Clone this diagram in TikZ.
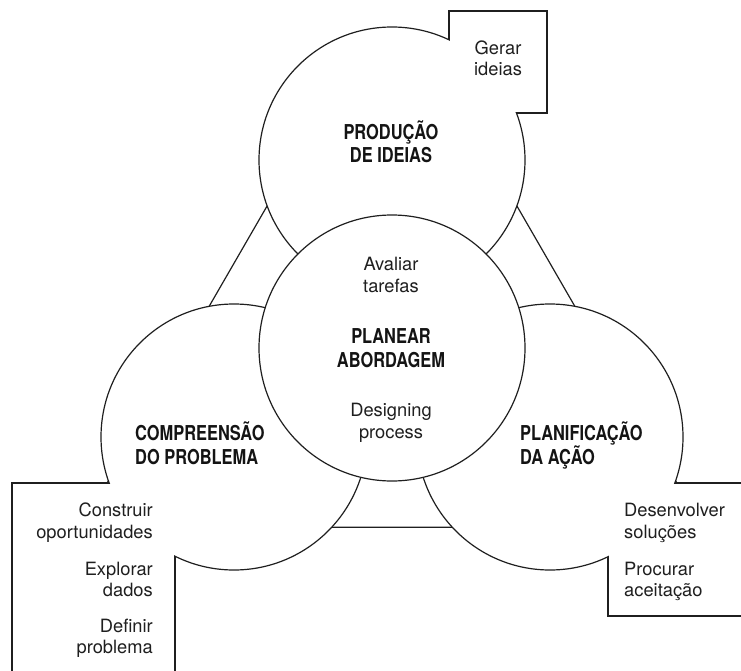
\documentclass[tikz,border=0pt]{standalone}
\usepackage{fontspec}
\setmainfont{TeX Gyre Heros}
% narrow bold face for the phase titles
\newfontfamily\headfont{TeX Gyre Heros}[FakeStretch=0.80]

\begin{document}
\begin{tikzpicture}[x=1pt, y=-1pt,
  outline/.style={draw=black!88, line width=1.2pt},
  disc/.style={outline, fill=white, circle, inner sep=0pt, outer sep=0pt, minimum size=266pt},
  stage/.style={font=\fontsize{18.3}{22}\selectfont, inner sep=0pt, text=black!88},
  phase/.style={font=\headfont\bfseries\fontsize{20.5}{24}\selectfont, inner sep=0pt, text=black!92},
  blank/.style={fill=white, draw=none},
]
\useasboundingbox (0,0) rectangle (741,671);
\clip (0,0) rectangle (741,671);

% frame behind the circles; its upper corners stay hidden in the top circle
\coordinate (hub) at (392,348);
\coordinate (frame-nw) at (282.1,180);
\coordinate (frame-ne) at (501.9,180);
\coordinate (frame-sw) at (81.6,527.2);
\coordinate (frame-se) at (702.4,527.2);
\draw[outline] (frame-nw) -- (frame-sw) -- (frame-se) -- (frame-ne) -- cycle;

% stage boxes: borders first, so the circles cover their inner corners
\draw[outline, fill=white] (449,11) rectangle (547,113);
\draw[outline, fill=white] (12,483) rectangle (175,700);
\draw[outline, fill=white] (608,483) rectangle (760,616);

% the three components and the central one
\node[disc] (gen) at (392,160) {};
\node[disc] (und) at (234,437) {};
\node[disc] (act) at (550,437) {};
\node[disc] (plan) at (hub) {};

% box interiors laid over the circle rims
\fill[blank] (449.6,11.6) rectangle (546.4,112.4);
\fill[blank] (12.6,483.6) rectangle (174.4,700);
\fill[blank] (608.6,483.6) rectangle (760,615.4);

% generating ideas
\node[phase, anchor=base] (gen-t1) at (391,140) {PRODUÇÃO};
\node[phase, anchor=base] (gen-t2) at (391,163) {DE IDEIAS};
\node[stage, anchor=base] (gen-s1) at (498,55) {Gerar};
\node[stage, anchor=base] (gen-s2) at (498,76) {ideias};

% planning the approach
\node[stage, anchor=base] (plan-s1) at (391,270) {Avaliar};
\node[stage, anchor=base] (plan-s2) at (391,292) {tarefas};
\node[phase, anchor=base] (plan-t1) at (391,343) {PLANEAR};
\node[phase, anchor=base] (plan-t2) at (391,367) {ABORDAGEM};
\node[stage, anchor=base] (plan-s3) at (391,416) {Designing};
\node[stage, anchor=base] (plan-s4) at (391,438) {process};

% understanding the problem
\node[phase, anchor=base west] (und-t1) at (135,440) {COMPREENSÃO};
\node[phase, anchor=base west] (und-t2) at (135,464) {DO PROBLEMA};
\node[stage, anchor=base east] (und-s1) at (153,516) {Construir};
\node[stage, anchor=base east] (und-s2) at (153,538) {oportunidades};
\node[stage, anchor=base east] (und-s3) at (153,575) {Explorar};
\node[stage, anchor=base east] (und-s4) at (153,596) {dados};
\node[stage, anchor=base east] (und-s5) at (153,632) {Definir};
\node[stage, anchor=base east] (und-s6) at (153,653) {problema};

% preparing for action
\node[phase, anchor=base west] (act-t1) at (520,440) {PLANIFICAÇÃO};
\node[phase, anchor=base west] (act-t2) at (520,464) {DA AÇÃO};
\node[stage, anchor=base west] (act-s1) at (624,516) {Desenvolver};
\node[stage, anchor=base west] (act-s2) at (624,538) {soluções};
\node[stage, anchor=base west] (act-s3) at (624,575) {Procurar};
\node[stage, anchor=base west] (act-s4) at (624,596) {aceitação};
\end{tikzpicture}
\end{document}
